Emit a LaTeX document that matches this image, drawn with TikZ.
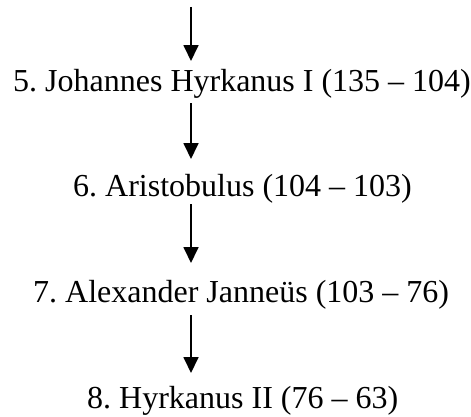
\documentclass[tikz,border=0pt]{standalone}
\usepackage{fontspec}
\setmainfont{Liberation Serif}
\usetikzlibrary{arrows.meta,calc}
\frenchspacing
\begin{document}
\begin{tikzpicture}[x=1bp,y=1bp,
  lbl/.style={anchor=base west,inner sep=0pt,font=\fontsize{32bp}{38bp}\selectfont},
  arr/.style={line width=1.8bp,-{Triangle[length=16bp,width=15bp]}}]
\useasboundingbox (0,0) rectangle (471,416);
\coordinate (ax) at (191,0);
\coordinate (top) at (191,409);
\node[lbl] (n1) at (13,325) {5. Johannes Hyrkanus I (135 – 104)};
\node[lbl] (n2) at (73,220) {6. Aristobulus (104 – 103)};
\node[lbl] (n3) at (33,114) {7. Alexander Janneüs (103 – 76)};
\node[lbl] (n4) at (87,8) {8. Hyrkanus II (76 – 63)};
\draw[arr] (top) -- ($(n1.base -| ax)+(0,30)$);
\draw[arr] ($(n1.base -| ax)+(0,-12)$) -- ($(n2.base -| ax)+(0,37)$);
\draw[arr] ($(n2.base -| ax)+(0,-8)$) -- ($(n3.base -| ax)+(0,39)$);
\draw[arr] ($(n3.base -| ax)+(0,-13)$) -- ($(n4.base -| ax)+(0,35)$);
\end{tikzpicture}
\end{document}
